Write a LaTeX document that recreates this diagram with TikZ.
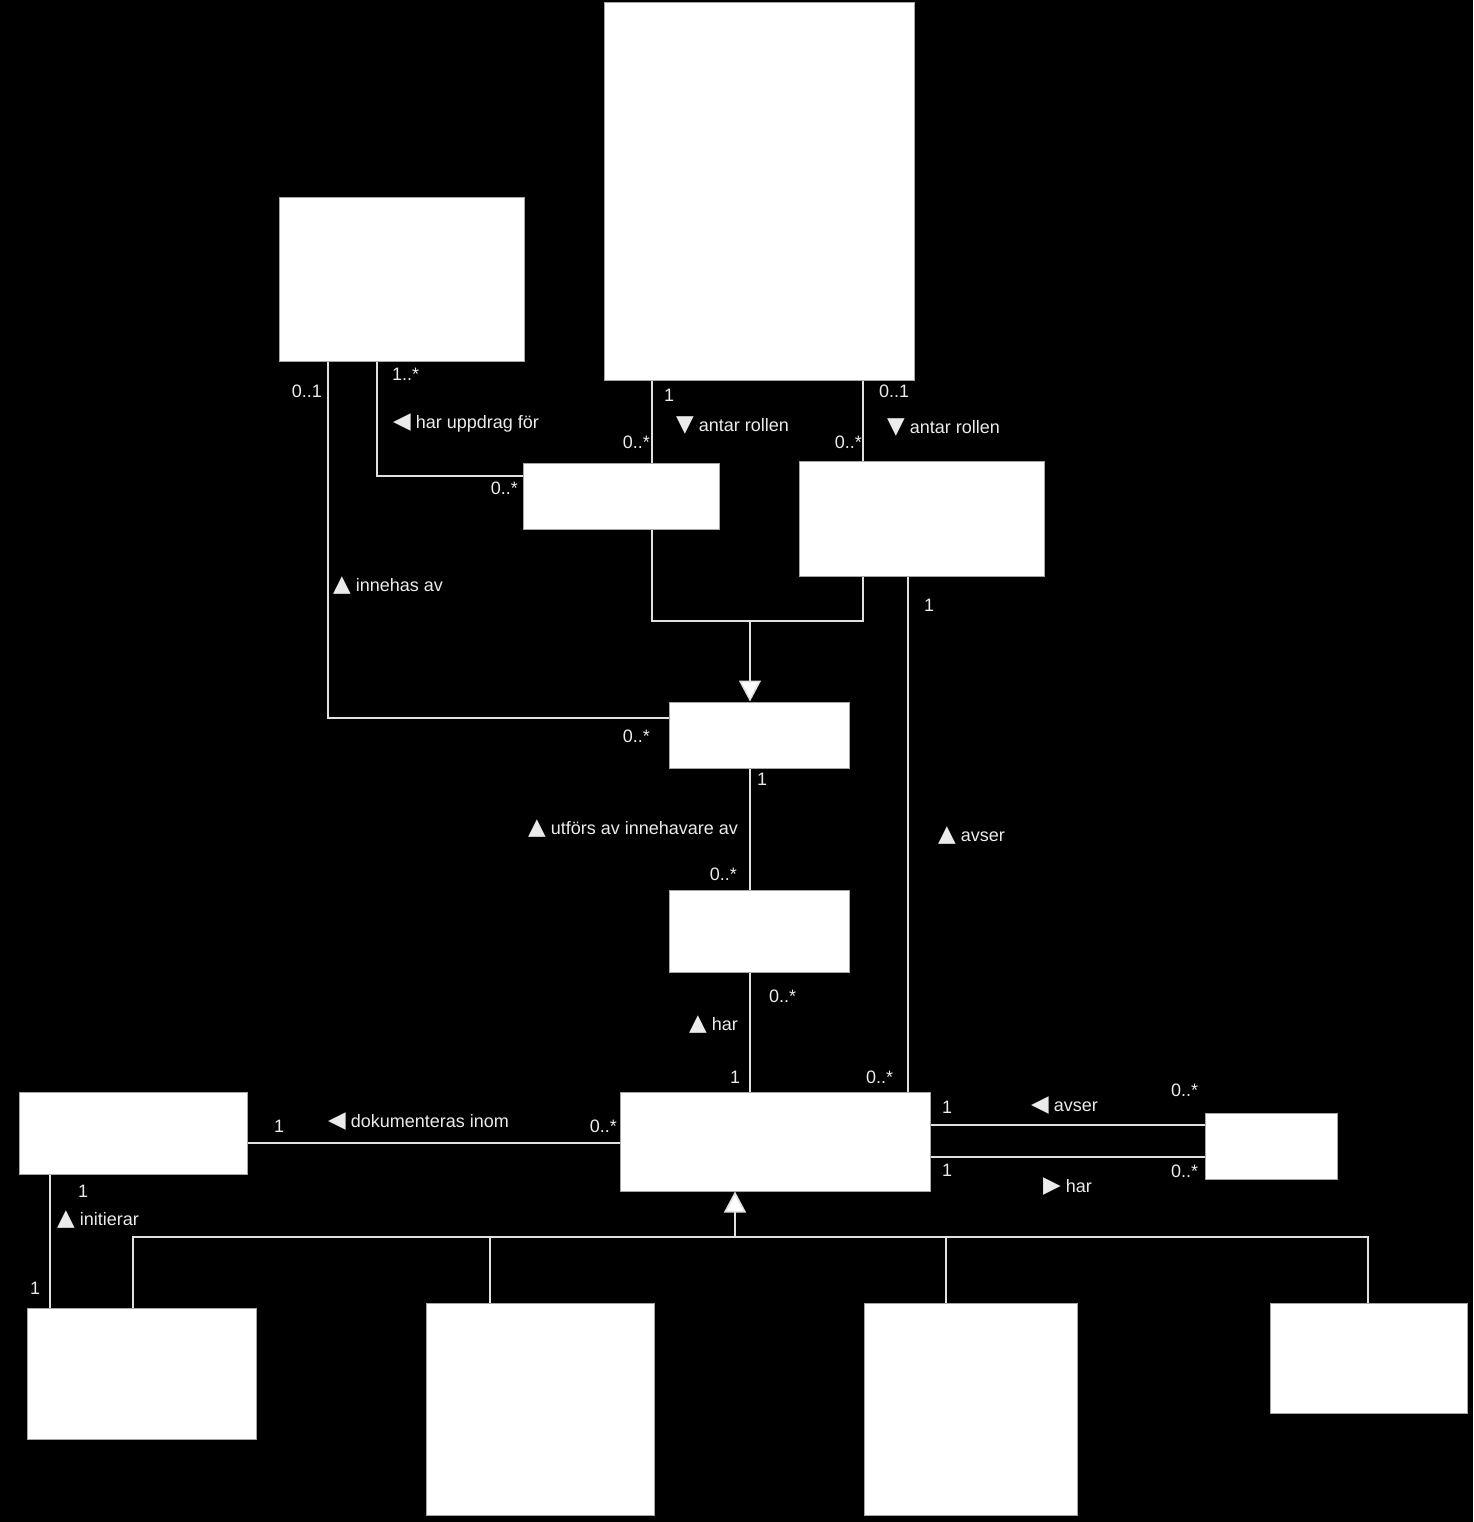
\documentclass[tikz,border=0pt]{standalone}
\usepackage{fontspec}
\setmainfont{Liberation Sans}
\newfontfamily\dejavu{DejaVu Sans}
\usetikzlibrary{arrows.meta}
\newcommand{\tri}[1]{{\dejavu\fontsize{23}{23}\selectfont #1}\hspace{5pt}}
\begin{document}
\begin{tikzpicture}[x=1pt,y=-1pt,
  box/.style={draw=black!35,fill=white,line width=1pt,inner sep=0pt},
  ln/.style={draw=white!88!black,line width=1.6pt},
  gen/.style={ln,-{Triangle[width=22pt,length=21pt,fill=white]}},
  lab/.style={text=white!92!black,font=\fontsize{18}{18}\selectfont,inner sep=0pt}]
\fill[black] (0,0) rectangle (1473,1522);
\useasboundingbox (0,0) rectangle (1473,1522);
% classes
\node[box,minimum width=310pt,minimum height=377pt] (top) at (759,191.5) {};
\node[box,minimum width=245pt,minimum height=163pt] (A) at (401.5,279.5) {};
\node[box,minimum width=196pt,minimum height=66pt] (B) at (621,496) {};
\node[box,minimum width=245pt,minimum height=115pt] (C) at (921.5,518.5) {};
\node[box,minimum width=180pt,minimum height=66pt] (D) at (759,735) {};
\node[box,minimum width=180pt,minimum height=82pt] (E) at (759,931) {};
\node[box,minimum width=310pt,minimum height=99pt] (F) at (775,1141.5) {};
\node[box,minimum width=228pt,minimum height=82pt] (G) at (133,1133) {};
\node[box,minimum width=132pt,minimum height=66pt] (H) at (1271,1146) {};
\node[box,minimum width=229pt,minimum height=131pt] (I) at (141.5,1373.5) {};
\node[box,minimum width=228pt,minimum height=212pt] (J) at (540,1409) {};
\node[box,minimum width=213pt,minimum height=212pt] (K) at (970.5,1409) {};
\node[box,minimum width=197pt,minimum height=110pt] (L) at (1368.5,1358) {};
% associations
\draw[ln] (652,0 |- top.south) -- (652,0 |- B.north);
\draw[ln] (863,0 |- top.south) -- (863,0 |- C.north);
\draw[ln] (377,0 |- A.south) |- (B.west |- 0,476);
\draw[ln] (328,0 |- A.south) |- (D.west |- 0,718);
\coordinate (gBC) at (750,621);
\draw[ln] (652,0 |- B.south) |- (gBC) -| (863,0 |- C.south);
\draw[gen] (gBC) -- (750,0 |- D.north);
\draw[ln] (750,0 |- D.south) -- (750,0 |- E.north);
\draw[ln] (750,0 |- E.south) -- (750,0 |- F.north);
\draw[ln] (908,0 |- C.south) -- (908,0 |- F.north);
\draw[ln] (G.east |- 0,1143) -- (F.west |- 0,1143);
\draw[ln] (F.east |- 0,1125) -- (H.west |- 0,1125);
\draw[ln] (F.east |- 0,1157) -- (H.west |- 0,1157);
\draw[ln] (50,0 |- G.south) -- (50,0 |- I.north);
\coordinate (gF) at (735,1237);
\draw[ln] (133,0 |- I.north) -- (133,1237) -- (1368,1237) -- (1368,0 |- L.north);
\draw[ln] (490,1237) -- (490,0 |- J.north);
\draw[ln] (946,1237) -- (946,0 |- K.north);
\draw[gen] (gF) -- (735,0 |- F.south);
% labels
\node[lab,anchor=west] (l1) at (664,395) {1};
\node[lab,anchor=east] (l2) at (650,442) {0..*};
\node[lab,anchor=west] (l3) at (676,426) {\tri{▼}antar rollen};
\node[lab,anchor=west] (l4) at (879,391) {0..1};
\node[lab,anchor=east] (l5) at (862,442) {0..*};
\node[lab,anchor=west] (l6) at (887,428) {\tri{▼}antar rollen};
\node[lab,anchor=west] (l7) at (392,374) {1..*};
\node[lab,anchor=west] (l8) at (393,423) {\tri{◀}har uppdrag för};
\node[lab,anchor=east] (l9) at (518,488) {0..*};
\node[lab,anchor=east] (l10) at (322,391) {0..1};
\node[lab,anchor=west] (l11) at (333,586) {\tri{▲}innehas av};
\node[lab,anchor=east] (l12) at (650,736) {0..*};
\node[lab,anchor=west] (l13) at (757,779) {1};
\node[lab,anchor=west] (l14) at (528,829) {\tri{▲}utförs av innehavare av};
\node[lab,anchor=east] (l15) at (737,874) {0..*};
\node[lab,anchor=west] (l16) at (769,996) {0..*};
\node[lab,anchor=west] (l17) at (689,1025) {\tri{▲}har};
\node[lab,anchor=west] (l18) at (730,1077) {1};
\node[lab,anchor=west] (l19) at (924,605) {1};
\node[lab,anchor=west] (l20) at (938,836) {\tri{▲}avser};
\node[lab,anchor=west] (l21) at (866,1077) {0..*};
\node[lab,anchor=west] (l22) at (274,1126) {1};
\node[lab,anchor=west] (l23) at (328,1122) {\tri{◀}dokumenteras inom};
\node[lab,anchor=east] (l24) at (617,1126) {0..*};
\node[lab,anchor=west] (l25) at (942,1107) {1};
\node[lab,anchor=west] (l26) at (1031,1106) {\tri{◀}avser};
\node[lab,anchor=west] (l27) at (1171,1090) {0..*};
\node[lab,anchor=west] (l28) at (942,1170) {1};
\node[lab,anchor=west] (l29) at (1043,1187) {\tri{▶}har};
\node[lab,anchor=west] (l30) at (1171,1171) {0..*};
\node[lab,anchor=west] (l31) at (78,1191) {1};
\node[lab,anchor=west] (l32) at (57,1220) {\tri{▲}initierar};
\node[lab,anchor=west] (l33) at (30,1288) {1};
\end{tikzpicture}
\end{document}
